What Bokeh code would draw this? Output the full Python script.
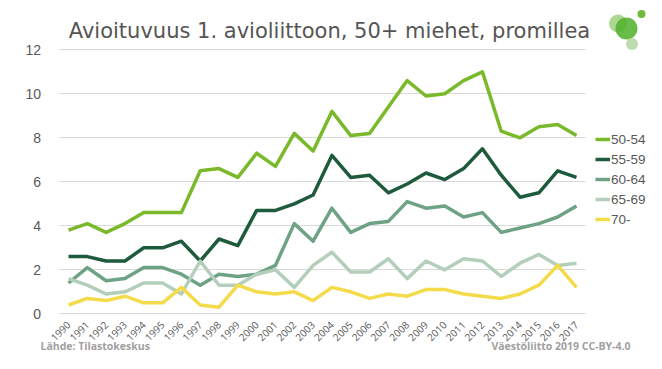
import math
from bokeh.plotting import figure
from bokeh.models import (FixedTicker, Legend, LegendItem, Label, BoxAnnotation)
from bokeh.embed import file_html
from bokeh.resources import INLINE

years = list(range(1990, 2018))
year_labels = [str(y) for y in years]

s50_54 = [3.8, 4.1, 3.7, 4.1, 4.6, 4.6, 4.6, 6.5, 6.6, 6.2, 7.3, 6.7, 8.2, 7.4, 9.2,
          8.1, 8.2, 9.4, 10.6, 9.9, 10.0, 10.6, 11.0, 8.3, 8.0, 8.5, 8.6, 8.1]
s55_59 = [2.6, 2.6, 2.4, 2.4, 3.0, 3.0, 3.3, 2.4, 3.4, 3.1, 4.7, 4.7, 5.0, 5.4, 7.2,
          6.2, 6.3, 5.5, 5.9, 6.4, 6.1, 6.6, 7.5, 6.3, 5.3, 5.5, 6.5, 6.2]
s60_64 = [1.4, 2.1, 1.5, 1.6, 2.1, 2.1, 1.8, 1.3, 1.8, 1.7, 1.8, 2.2, 4.1, 3.3, 4.8,
          3.7, 4.1, 4.2, 5.1, 4.8, 4.9, 4.4, 4.6, 3.7, 3.9, 4.1, 4.4, 4.9]
s65_69 = [1.6, 1.3, 0.9, 1.0, 1.4, 1.4, 0.9, 2.4, 1.3, 1.3, 1.8, 2.0, 1.2, 2.2, 2.8,
          1.9, 1.9, 2.5, 1.6, 2.4, 2.0, 2.5, 2.4, 1.7, 2.3, 2.7, 2.2, 2.3]
s70 = [0.4, 0.7, 0.6, 0.8, 0.5, 0.5, 1.2, 0.4, 0.3, 1.3, 1.0, 0.9, 1.0, 0.6, 1.2,
       1.0, 0.7, 0.9, 0.8, 1.1, 1.1, 0.9, 0.8, 0.7, 0.9, 1.3, 2.2, 1.2]

series_names = ["50-54", "55-59", "60-64", "65-69", "70-"]
series_values = [s50_54, s55_59, s60_64, s65_69, s70]
series_colors = ["#7ab929", "#1e5a3c", "#6da384", "#b3cfbb", "#f3db4a"]

y_ticks = [0, 2, 4, 6, 8, 10, 12]
title_text = "Avioituvuus 1. avioliittoon, 50+ miehet, promillea"
source_text = "Lähde: Tilastokeskus"
credit_text = "Väestöliitto 2019 CC-BY-4.0"

# frame covers the whole canvas; scales chosen to match the reference layout
W, H = 646, 353
px_per_year = 526.8 / 28.0
px_per_unit = 22.0
plot_left_px = 58.6          # canvas x of 1989.5
zero_px_from_bottom = H - 313.3
x_start = 1989.5 - plot_left_px / px_per_year
x_end = x_start + W / px_per_year
y_start = -zero_px_from_bottom / px_per_unit
y_end = y_start + H / px_per_unit

p = figure(width=W, height=H, x_range=(x_start, x_end), y_range=(y_start, y_end),
           output_backend="svg", toolbar_location=None,
           min_border_left=0, min_border_right=0, min_border_top=0,
           min_border_bottom=0)
p.outline_line_color = None
p.background_fill_color = "white"
p.border_fill_color = "white"

p.xgrid.grid_line_color = None
p.ygrid.grid_line_color = "#d9d9d9"
p.ygrid.grid_line_width = 1
p.ygrid.cross_bounds = (1989.5, 2017.5)

p.yaxis.fixed_location = 1989.5
p.yaxis.ticker = FixedTicker(ticks=y_ticks)
p.yaxis.axis_line_color = None
p.yaxis.major_tick_line_color = None
p.yaxis.minor_tick_line_color = None
p.yaxis.major_label_text_font = "Liberation Sans"
p.yaxis.major_label_text_font_size = "14px"
p.yaxis.major_label_text_color = "#595959"
p.yaxis.major_label_standoff = 12

p.xaxis.fixed_location = 0
p.xaxis.ticker = FixedTicker(ticks=years)
p.xaxis.major_label_overrides = {y: l for y, l in zip(years, year_labels)}
p.xaxis.axis_line_color = None
p.xaxis.major_tick_line_color = None
p.xaxis.minor_tick_line_color = None
p.xaxis.major_label_orientation = math.pi / 4
p.xaxis.major_label_text_font = "Open Sans"
p.xaxis.major_label_text_font_size = "10px"
p.xaxis.major_label_text_color = "#595959"
p.xaxis.major_label_standoff = 3

items = []
for name, vals, col in zip(series_names, series_values, series_colors):
    r = p.line(years, vals, line_color=col, line_width=3.5, line_join="round")
    items.append(LegendItem(label=name, renderers=[r]))

legend = Legend(items=items, location=(595, 124), padding=0, margin=0, spacing=0,
                glyph_width=15, glyph_height=20, label_height=20, label_standoff=1,
                label_text_font="Liberation Sans", label_text_font_size="13.5px",
                label_text_color="#595959", background_fill_alpha=0,
                border_line_color=None)
p.add_layout(legend, "center")

p.add_layout(Label(x=329, y=323, x_units="screen", y_units="screen",
                   text=title_text, text_align="center", text_baseline="alphabetic",
                   text_font="DejaVu Sans", text_font_size="21px",
                   text_color="#555555"))
p.add_layout(Label(x=40, y=8, x_units="screen", y_units="screen",
                   text=source_text, text_align="left", text_baseline="middle",
                   text_font="Open Sans", text_font_style="bold",
                   text_font_size="10.5px", text_color="#a0a0a0"))
p.add_layout(Label(x=630, y=8, x_units="screen", y_units="screen",
                   text=credit_text, text_align="right", text_baseline="middle",
                   text_font="Open Sans", text_font_style="bold",
                   text_font_size="10.5px", text_color="#a0a0a0"))

# logo (decorative circles)
logo = [(617.5, 330, 9, "#9fcf7f", 0.85),
        (626, 325, 11, "#4cb02a", 0.85),
        (641, 339.5, 4, "#6cbb3c", 1.0),
        (631.5, 309.5, 6, "#b7d7a6", 0.9)]
for cx, cy, rr, col, a in logo:
    p.add_layout(BoxAnnotation(left=cx - rr, right=cx + rr, bottom=cy - rr, top=cy + rr,
                               left_units="screen", right_units="screen",
                               bottom_units="screen", top_units="screen",
                               fill_color=col, fill_alpha=a, line_color=None,
                               border_radius=rr))

open("out.html", "w").write(file_html(p, INLINE))
